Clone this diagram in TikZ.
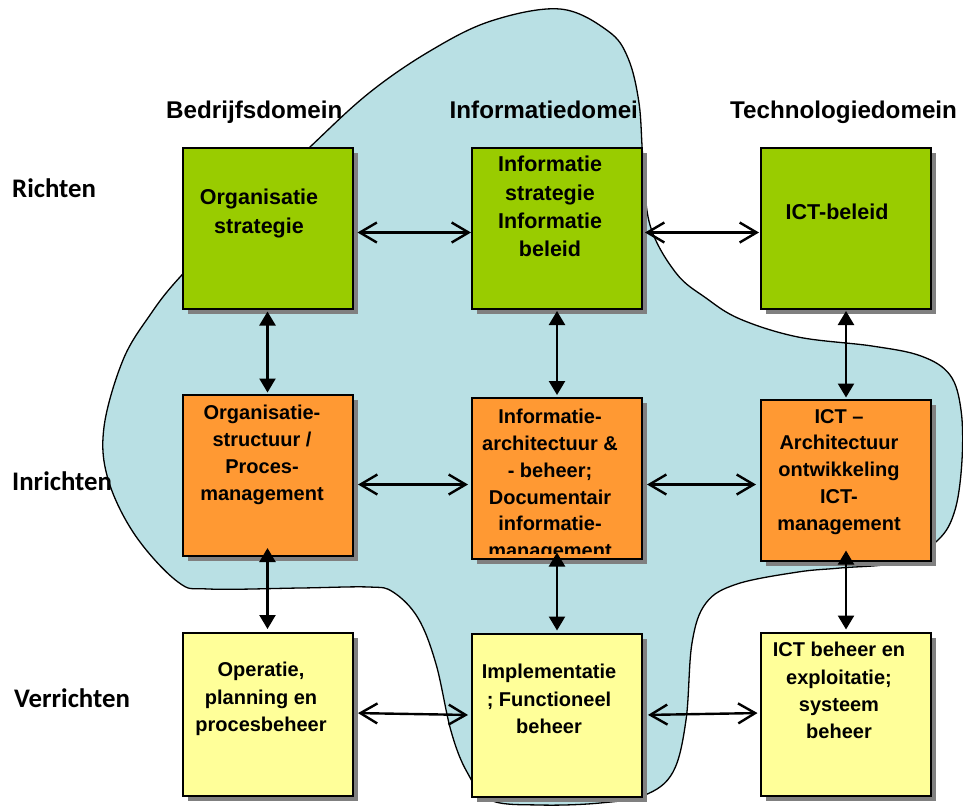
\documentclass[tikz,border=0pt]{standalone}
\usepackage{fontspec}
\setmainfont{Liberation Sans}
\newfontfamily\rowfont{Carlito}
\usetikzlibrary{arrows.meta}

\definecolor{stratgreen}{HTML}{99CC00}
\definecolor{inrorange}{HTML}{FF9933}
\definecolor{verryellow}{HTML}{FFFF99}
\definecolor{blobblue}{HTML}{B9E0E4}
\definecolor{shadowgray}{HTML}{808080}

\tikzset{
  box/.style={draw=black, line width=2pt, minimum width=170pt, minimum height=161pt,
    inner sep=0pt,
    preaction={draw=none, fill=shadowgray, transform canvas={xshift=5pt, yshift=-5pt}}},
  greenbox/.style={box, fill=stratgreen},
  orangebox/.style={box, fill=inrorange},
  yellowbox/.style={box, fill=verryellow},
  boxtext/.style={anchor=north, inner sep=0pt, align=center, text=black},
  rowone/.style={boxtext, font=\fontsize{21.5}{28.4}\selectfont\bfseries},
  rowtwo/.style={boxtext, font=\fontsize{20}{26.8}\selectfont\bfseries},
  rowthree/.style={boxtext, font=\fontsize{20}{27.3}\selectfont\bfseries},
  domainlabel/.style={anchor=base west, inner sep=0pt, font=\fontsize{24.2}{29}\selectfont\bfseries},
  levellabel/.style={anchor=base west, inner sep=0pt, font=\rowfont\fontsize{26.8}{32}\selectfont\bfseries},
  harr/.style={line width=2.4pt,
    {Straight Barb[length=17pt,width=20pt,line width=2.4pt]}-{Straight Barb[length=17pt,width=20pt,line width=2.4pt]}},
  varr/.style={line width=2.4pt,
    {Triangle[length=14pt,width=16pt]}-{Triangle[length=14pt,width=16pt]}}
}

\begin{document}
\begin{tikzpicture}[x=1pt, y=-1pt]
\useasboundingbox (0,0) rectangle (963,807);
\fill[white] (0,0) rectangle (963,807);

% background cloud
\path[draw=black, line width=1.3pt, fill=blobblue]
  plot[smooth cycle, tension=0.6] coordinates {
    (560,9) (608,31) (628,58) (639,103) (643,160) (650,225) (676,273) (706,298)
    (740,319) (798,337) (872,346) (921,356) (950,375) (961,410) (962,460)
    (955,510) (938,540) (900,562) (840,568) (798,572) (737,584) (706,603)
    (692,643) (686,720) (673,772) (645,795) (600,803) (540,805) (490,800)
    (467,772) (451,731) (436,664) (418,618) (393,592) (369,587) (300,588)
    (209,589) (178,582) (135,535) (108,479) (104,427) (123,360) (150,315)
    (180,277) (245,210) (310,147) (369,93) (430,51) (491,21)};

% column headings
\node[domainlabel] (hbed) at (166,118) {Bedrijfsdomein};
\node[domainlabel] (hinf) at (449.5,118) {Informatiedomei};
\node[domainlabel] (htec) at (730,118) {Technologiedomein};

% row headings
\node[levellabel] (lricht) at (12,197) {Richten};
\node[levellabel] (linr) at (12,490) {Inrichten};
\node[levellabel] (lverr) at (14,707) {Verrichten};

% boxes
\node[greenbox] (b11) at (267.5,228.5) {};
\node[greenbox] (b12) at (557,228.5) {};
\node[greenbox] (b13) at (846,228.5) {};
\node[orangebox] (b21) at (267.5,475.5) {};
\node[orangebox] (b22) at (557,478.5) {};
\node[orangebox] (b23) at (846,480) {};
\node[yellowbox, minimum height=163pt] (b31) at (267.5,714) {};
\node[yellowbox, minimum height=163pt] (b32) at (557,715) {};
\node[yellowbox, minimum height=163pt] (b33) at (846,714) {};

% box texts
\node[rowone] (t11) at (259,189) {Organisatie\\strategie};
\node[rowone] (t12) at (550,156) {Informatie\\strategie\\Informatie\\beleid};
\node[rowone] (t13) at (837,204) {ICT-beleid};
\node[rowtwo] (t21) at (262,405) {Organisatie-\\structuur /\\Proces-\\management};
\begin{scope}
  \clip (471,397) rectangle (643,553.5);
  \node[rowtwo] (t22) at (550,409) {Informatie-\\architectuur \&\\- beheer;\\Documentair\\informatie-\\management};
\end{scope}
\node[rowtwo] (t23) at (839,409) {ICT --\\Architectuur\\ontwikkeling\\ICT-\\management};
\node[rowthree] (t31) at (261,662) {Operatie,\\planning en\\procesbeheer};
\node[rowthree] (t32) at (549,664) {Implementatie\\; Functioneel\\beheer};
\node[rowthree] (t33) at (839,642) {ICT beheer en\\exploitatie;\\systeem\\beheer};

% horizontal connectors
\draw[harr, shorten <=4pt] ([yshift=-4pt]b11.east) -- ([yshift=-4pt]b12.west);
\draw[harr, shorten <=2pt, shorten >=1pt] ([yshift=-4pt]b12.east) -- ([yshift=-4pt]b13.west);
\draw[harr, shorten <=4.5pt, shorten >=3pt] ([yshift=-9pt]b21.east) -- ([yshift=-6pt]b22.west);
\draw[harr, shorten <=4pt, shorten >=4pt] ([yshift=-6pt]b22.east) -- ([yshift=-4.5pt]b23.west);
\draw[harr, shorten <=4.5pt, shorten >=3pt] ([yshift=1pt]b31.east) -- ([yshift=0pt]b32.west);
\draw[harr, shorten <=5pt, shorten >=2.5pt] ([yshift=0pt]b32.east) -- ([yshift=1pt]b33.west);

% vertical connectors
\draw[varr, shorten <=1.5pt, shorten >=1.5pt] (b11.south) -- (b21.north);
\draw[varr, shorten >=2.5pt] ([yshift=9pt]b21.south) -- (b31.north);
\draw[varr, shorten <=1pt, shorten >=2pt] (b12.south) -- (b22.north);
\draw[varr, shorten >=2pt] ([yshift=7.5pt]b22.south) -- (b32.north);
\draw[varr, shorten <=1pt, shorten >=1pt] (b13.south) -- (b23.north);
\draw[varr, shorten >=2pt] ([yshift=11pt]b23.south) -- (b33.north);
\end{tikzpicture}
\end{document}
